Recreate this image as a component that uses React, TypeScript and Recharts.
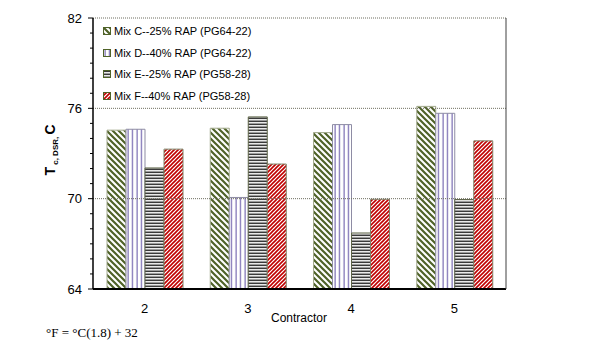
import React from "react"
import { BarChart, Bar, XAxis, YAxis, ReferenceLine, Legend } from "recharts"

// Contractor groups and T_c (DSR) values in deg C
const CONTRACTORS = ["2", "3", "4", "5"]
const MIX_C = [74.55, 74.68, 74.39, 76.13]
const MIX_D = [74.61, 70.08, 74.92, 75.67]
const MIX_E = [72.04, 75.43, 67.72, 69.94]
const MIX_F = [73.29, 72.3, 69.96, 73.84]

const SERIES_NAMES = [
  "Mix C--25% RAP (PG64-22)",
  "Mix D--40% RAP (PG64-22)",
  "Mix E--25% RAP (PG58-28)",
  "Mix F--40% RAP (PG58-28)",
]
const Y_LABELS = [64, 70, 76, 82]
const Y_MINOR = [64, 65, 66, 67, 68, 69, 70, 71, 72, 73, 74, 75, 76, 77, 78, 79, 80, 81, 82]
const GRID_VALUES = [70, 76, 82]

const FONT = "'Liberation Sans', Arial, sans-serif"
const W = 600
const H = 347
const Y_AXIS_W = 93
const RIGHT_W = 94

const data = CONTRACTORS.map((c, i) => ({
  contractor: c,
  mixC: MIX_C[i],
  mixD: MIX_D[i],
  mixE: MIX_E[i],
  mixF: MIX_F[i],
}))

const series = [
  { key: "mixC", name: SERIES_NAMES[0], pat: "c", stroke: "#a3aa8e" },
  { key: "mixD", name: SERIES_NAMES[1], pat: "d", stroke: "#8e8ca4" },
  { key: "mixE", name: SERIES_NAMES[2], pat: "e", stroke: "#5d6447" },
  { key: "mixF", name: SERIES_NAMES[3], pat: "f", stroke: "#7f846a" },
]

function Patterns({ p }: { p: string }) {
  return (
    <defs>
      <pattern id={`${p}-c`} patternUnits="userSpaceOnUse" width="6" height="6">
        <rect width="6" height="6" fill="#fff" />
        <path d="M0,0 L6,6 M-1,5 L1,7 M5,-1 L7,1" stroke="#4f6228" strokeWidth="2.2" />
      </pattern>
      <pattern id={`${p}-d`} patternUnits="userSpaceOnUse" width="4.5" height="4">
        <rect width="4.5" height="4" fill="#fff" />
        <rect x="1.5" width="1.1" height="4" fill="#6a5caa" />
      </pattern>
      <pattern id={`${p}-e`} patternUnits="userSpaceOnUse" width="4" height="3">
        <rect width="4" height="3" fill="#fff" />
        <rect y="0.5" width="4" height="1.6" fill="#3a3a3a" />
      </pattern>
      <pattern id={`${p}-f`} patternUnits="userSpaceOnUse" width="4" height="4">
        <rect width="4" height="4" fill="#fff" />
        <path d="M0,4 L4,0 M-1,1 L1,-1 M3,5 L5,3" stroke="#c00000" strokeWidth="1.6" />
      </pattern>
    </defs>
  )
}

const YTick = (props: any) => {
  const { y, payload } = props
  const v = payload.value
  const major = Y_LABELS.includes(v)
  const ax = Y_AXIS_W
  return (
    <g>
      <line x1={ax - (major ? 5 : 3)} x2={ax} y1={y} y2={y} stroke="#000" strokeWidth={1} />
      {major && (
        <text x={ax - 11} y={y + 4.5} textAnchor="end" fontSize={13} fontFamily={FONT} fill="#000">
          {v}
        </text>
      )}
    </g>
  )
}

const XTick = (props: any) => {
  const { x, payload } = props
  return (
    <text x={x} y={313} textAnchor="middle" fontSize={13} fontFamily={FONT} fill="#000">
      {payload.value}
    </text>
  )
}

const LegendContent = () => (
  <div style={{ fontFamily: FONT, fontSize: 11, color: "#000", lineHeight: "21.5px" }}>
    {series.map((s) => (
      <div key={s.key} style={{ display: "flex", alignItems: "center", whiteSpace: "nowrap" }}>
        <svg width={9} height={9} style={{ marginRight: 2 }}>
          <Patterns p={`lg-${s.key}`} />
          <rect x={0.5} y={0.5} width={7} height={7} fill={`url(#lg-${s.key}-${s.pat})`} stroke="#4f6228" strokeWidth={1} />
        </svg>
        <span>{s.name}</span>
      </div>
    ))}
  </div>
)

export default function App() {
  return (
    <div style={{ position: "absolute", left: 0, top: 0, width: W, height: H, background: "#fff" }}>
      <BarChart
        width={W}
        height={H}
        data={data}
        margin={{ top: 18, right: 0, bottom: 28, left: 0 }}
        barCategoryGap={14}
        barGap={0}
      >
        <Patterns p="bar" />
        <XAxis
          dataKey="contractor"
          tickLine={false}
          axisLine={{ stroke: "#000", strokeWidth: 2 }}
          tick={<XTick />}
          height={30}
        />
        <YAxis
          domain={[64, 82]}
          ticks={Y_MINOR}
          interval={0}
          tickLine={false}
          axisLine={{ stroke: "#000", strokeWidth: 1.5 }}
          tick={<YTick />}
          width={Y_AXIS_W}
        />
        <YAxis
          yAxisId="r"
          orientation="right"
          domain={[64, 82]}
          tick={false}
          tickLine={false}
          axisLine={{ stroke: "#404040", strokeWidth: 1 }}
          width={RIGHT_W}
        />
        {GRID_VALUES.map((v) => (
          <ReferenceLine key={v} y={v} stroke="#6f6f60" strokeDasharray="1 1" strokeWidth={1} />
        ))}
        <Legend
          layout="vertical"
          align="center"
          verticalAlign="middle"
          content={<LegendContent />}
          wrapperStyle={{ left: 103, top: 21, width: "auto" }}
        />
        {series.map((s) => (
          <Bar
            key={s.key}
            dataKey={s.key}
            name={s.name}
            fill={`url(#bar-${s.pat})`}
            stroke={s.stroke}
            strokeWidth={1}
            isAnimationActive={false}
          />
        ))}
      </BarChart>
      <svg width={W} height={H} style={{ position: "absolute", left: 0, top: 0, pointerEvents: "none" }}>
        <text
          x={55}
          y={150}
          transform="rotate(-90, 55, 150)"
          textAnchor="middle"
          fontFamily={FONT}
          fontWeight="bold"
          fill="#000"
        >
          <tspan fontSize={14}>T</tspan>
          <tspan fontSize={8} dy={3}>{" c,  DSR, "}</tspan>
          <tspan fontSize={14} dy={-3}>{" C"}</tspan>
        </text>
        <text x={299} y={322} textAnchor="middle" fontSize={12} fontFamily={FONT} fill="#000">
          Contractor
        </text>
        <text x={46} y={337} fontSize={13} fontFamily="'Liberation Serif', 'Times New Roman', serif" fill="#000">
          °F = °C(1.8) + 32
        </text>
      </svg>
    </div>
  )
}
